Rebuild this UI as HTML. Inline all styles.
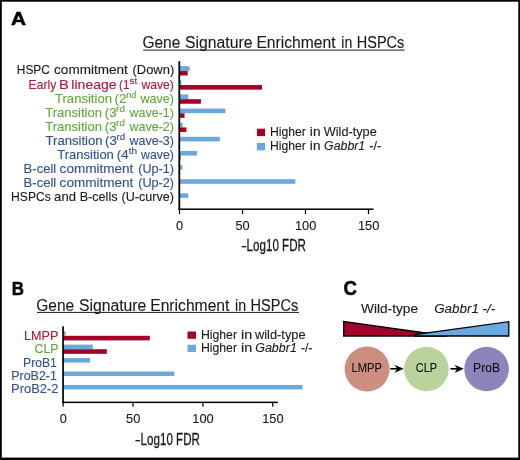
<!DOCTYPE html><html><head><meta charset="utf-8"><title>Gene Signature Enrichment in HSPCs</title>
<style>html,body{margin:0;padding:0;background:#fff}svg{display:block}text{font-family:"Liberation Sans",Arial,sans-serif}</style></head><body>
<svg width="520" height="460" viewBox="0 0 520 460">
<rect x="0" y="0" width="520" height="460" fill="#fff"/>
<rect x="0" y="0" width="520" height="1.7" fill="#000"/>
<rect x="0" y="457.6" width="520" height="2.4" fill="#000"/>
<rect x="0" y="0" width="1.8" height="460" fill="#000"/>
<rect x="518.3" y="0" width="1.7" height="460" fill="#000"/>
<text x="10.9" y="25.2" font-size="18.3" fill="#000" stroke="#000" stroke-width="0.55" text-anchor="start" font-weight="bold" textLength="15" lengthAdjust="spacingAndGlyphs">A</text>
<text x="11.75" y="295.0" font-size="18.6" fill="#000" stroke="#000" stroke-width="0.5" text-anchor="start" font-weight="bold" textLength="12.2" lengthAdjust="spacingAndGlyphs">B</text>
<text x="343.6" y="295.3" font-size="19.9" fill="#000" stroke="#000" stroke-width="0.5" text-anchor="start" font-weight="bold" textLength="13.5" lengthAdjust="spacingAndGlyphs">C</text>
<text y="48.3" font-size="16" fill="#1a1a1a" stroke="#1a1a1a" stroke-width="0.12"><tspan x="142.42" textLength="37.87" lengthAdjust="spacingAndGlyphs">Gene</tspan> <tspan x="185.09" textLength="67.31" lengthAdjust="spacingAndGlyphs">Signature</tspan> <tspan x="256.42" textLength="79.10" lengthAdjust="spacingAndGlyphs">Enrichment</tspan> <tspan x="341.26" textLength="10.96" lengthAdjust="spacingAndGlyphs">in</tspan> <tspan x="356.81" textLength="47.51" lengthAdjust="spacingAndGlyphs">HSPCs</tspan></text>
<rect x="143.2" y="49.6" width="261.4" height="1" fill="#1a1a1a"/>
<text y="310.7" font-size="16" fill="#1a1a1a" stroke="#1a1a1a" stroke-width="0.12"><tspan x="36.22" textLength="37.97" lengthAdjust="spacingAndGlyphs">Gene</tspan> <tspan x="78.88" textLength="67.41" lengthAdjust="spacingAndGlyphs">Signature</tspan> <tspan x="150.22" textLength="79.20" lengthAdjust="spacingAndGlyphs">Enrichment</tspan> <tspan x="235.05" textLength="11.08" lengthAdjust="spacingAndGlyphs">in</tspan> <tspan x="250.61" textLength="47.62" lengthAdjust="spacingAndGlyphs">HSPCs</tspan></text>
<rect x="37" y="311.9" width="262" height="1" fill="#1a1a1a"/>
<text y="74.4" font-size="12.4" fill="#1a1a1a" stroke="#1a1a1a" stroke-width="0.12"><tspan x="16.82" textLength="33.13" lengthAdjust="spacingAndGlyphs">HSPC</tspan> <tspan x="54.12" textLength="73.67" lengthAdjust="spacingAndGlyphs">commitment</tspan> <tspan x="132.50" textLength="41.71" lengthAdjust="spacingAndGlyphs">(Down)</tspan></text>
<rect x="179.5" y="66.20" width="10.08" height="4.6" fill="#69a9df"/>
<rect x="179.5" y="70.90" width="8.19" height="4.6" fill="#a30329"/>
<text y="88.5" font-size="12.4" fill="#b0173a" stroke="#b0173a" stroke-width="0.12"><tspan x="28.60" textLength="27.62" lengthAdjust="spacingAndGlyphs">Early</tspan> <tspan x="59.00" textLength="9.78" lengthAdjust="spacingAndGlyphs">B</tspan> <tspan x="71.35" textLength="45.27" lengthAdjust="spacingAndGlyphs">lineage</tspan> <tspan x="119.08" textLength="10.40" lengthAdjust="spacingAndGlyphs">(1</tspan><tspan x="129.53" textLength="7.65" lengthAdjust="spacingAndGlyphs" font-size="8.8" dy="-4.6">st</tspan> <tspan x="141.42" textLength="32.54" lengthAdjust="spacingAndGlyphs" dy="4.6">wave)</tspan></text>
<rect x="179.5" y="80.33" width="1.89" height="4.6" fill="#69a9df"/>
<rect x="179.5" y="85.03" width="82.53" height="4.6" fill="#a30329"/>
<text y="102.6" font-size="12.4" fill="#63a83c" stroke="#63a83c" stroke-width="0.12"><tspan x="55.01" textLength="56.94" lengthAdjust="spacingAndGlyphs">Transition</tspan> <tspan x="114.55" textLength="12.13" lengthAdjust="spacingAndGlyphs">(2</tspan><tspan x="126.29" textLength="10.20" lengthAdjust="spacingAndGlyphs" font-size="8.8" dy="-4.6">nd</tspan> <tspan x="140.52" textLength="33.46" lengthAdjust="spacingAndGlyphs" dy="4.6">wave)</tspan></text>
<rect x="179.5" y="94.45" width="8.82" height="4.6" fill="#69a9df"/>
<rect x="179.5" y="99.15" width="21.42" height="4.6" fill="#a30329"/>
<text y="116.7" font-size="12.4" fill="#63a83c" stroke="#63a83c" stroke-width="0.12"><tspan x="45.21" textLength="56.84" lengthAdjust="spacingAndGlyphs">Transition</tspan> <tspan x="104.78" textLength="11.81" lengthAdjust="spacingAndGlyphs">(3</tspan><tspan x="116.14" textLength="8.79" lengthAdjust="spacingAndGlyphs" font-size="8.8" dy="-4.6">rd</tspan> <tspan x="129.52" textLength="44.46" lengthAdjust="spacingAndGlyphs" dy="4.6">wave-1)</tspan></text>
<rect x="179.5" y="108.58" width="45.99" height="4.6" fill="#69a9df"/>
<rect x="179.5" y="113.28" width="5.04" height="4.6" fill="#a30329"/>
<text y="130.8" font-size="12.4" fill="#63a83c" stroke="#63a83c" stroke-width="0.12"><tspan x="45.21" textLength="56.84" lengthAdjust="spacingAndGlyphs">Transition</tspan> <tspan x="104.78" textLength="11.81" lengthAdjust="spacingAndGlyphs">(3</tspan><tspan x="116.14" textLength="8.79" lengthAdjust="spacingAndGlyphs" font-size="8.8" dy="-4.6">rd</tspan> <tspan x="129.52" textLength="44.46" lengthAdjust="spacingAndGlyphs" dy="4.6">wave-2)</tspan></text>
<rect x="179.5" y="122.70" width="3.15" height="4.6" fill="#69a9df"/>
<rect x="179.5" y="127.40" width="6.93" height="4.6" fill="#a30329"/>
<text y="144.9" font-size="12.4" fill="#31518f" stroke="#31518f" stroke-width="0.12"><tspan x="45.50" textLength="57.15" lengthAdjust="spacingAndGlyphs">Transition</tspan> <tspan x="105.08" textLength="11.81" lengthAdjust="spacingAndGlyphs">(3</tspan><tspan x="116.55" textLength="8.68" lengthAdjust="spacingAndGlyphs" font-size="8.8" dy="-4.6">rd</tspan> <tspan x="129.52" textLength="44.46" lengthAdjust="spacingAndGlyphs" dy="4.6">wave-3)</tspan></text>
<rect x="179.5" y="136.82" width="40.32" height="4.6" fill="#69a9df"/>
<text y="159.0" font-size="12.4" fill="#31518f" stroke="#31518f" stroke-width="0.12"><tspan x="57.31" textLength="56.54" lengthAdjust="spacingAndGlyphs">Transition</tspan> <tspan x="116.87" textLength="11.92" lengthAdjust="spacingAndGlyphs">(4</tspan><tspan x="128.75" textLength="8.30" lengthAdjust="spacingAndGlyphs" font-size="8.8" dy="-4.6">th</tspan> <tspan x="141.12" textLength="32.85" lengthAdjust="spacingAndGlyphs" dy="4.6">wave)</tspan></text>
<rect x="179.5" y="150.95" width="17.64" height="4.6" fill="#69a9df"/>
<rect x="179.5" y="155.65" width="1.01" height="4.6" fill="#a30329"/>
<text y="173.1" font-size="12.4" fill="#31518f" stroke="#31518f" stroke-width="0.12"><tspan x="23.63" textLength="32.54" lengthAdjust="spacingAndGlyphs">B-cell</tspan> <tspan x="59.62" textLength="73.78" lengthAdjust="spacingAndGlyphs">commitment</tspan> <tspan x="138.22" textLength="35.77" lengthAdjust="spacingAndGlyphs">(Up-1)</tspan></text>
<rect x="179.5" y="165.07" width="2.90" height="4.6" fill="#69a9df"/>
<rect x="179.5" y="169.77" width="0.38" height="4.6" fill="#a30329"/>
<text y="187.2" font-size="12.4" fill="#31518f" stroke="#31518f" stroke-width="0.12"><tspan x="23.63" textLength="32.54" lengthAdjust="spacingAndGlyphs">B-cell</tspan> <tspan x="59.62" textLength="73.78" lengthAdjust="spacingAndGlyphs">commitment</tspan> <tspan x="138.22" textLength="35.77" lengthAdjust="spacingAndGlyphs">(Up-2)</tspan></text>
<rect x="179.5" y="179.20" width="115.92" height="4.6" fill="#69a9df"/>
<rect x="179.5" y="183.90" width="0.38" height="4.6" fill="#a30329"/>
<text y="201.3" font-size="12.4" fill="#1a1a1a" stroke="#1a1a1a" stroke-width="0.12"><tspan x="11.11" textLength="39.63" lengthAdjust="spacingAndGlyphs">HSPCs</tspan> <tspan x="54.14" textLength="21.80" lengthAdjust="spacingAndGlyphs">and</tspan> <tspan x="79.66" textLength="37.89" lengthAdjust="spacingAndGlyphs">B-cells</tspan> <tspan x="121.52" textLength="52.46" lengthAdjust="spacingAndGlyphs">(U-curve)</tspan></text>
<rect x="179.5" y="193.32" width="8.82" height="4.6" fill="#69a9df"/>
<rect x="179.5" y="198.02" width="0.38" height="4.6" fill="#a30329"/>
<rect x="178.4" y="61.2" width="1.8" height="148.75" fill="#000"/>
<rect x="178.4" y="208.45" width="195.1" height="1.5" fill="#000"/>
<rect x="178.90" y="209" width="1.2" height="5.2" fill="#000"/>
<text x="179.6" y="229.8" font-size="12.8" fill="#1a1a1a" stroke="#1a1a1a" stroke-width="0.12" text-anchor="middle">0</text>
<rect x="241.90" y="209" width="1.2" height="5.2" fill="#000"/>
<text x="242.6" y="229.8" font-size="12.8" fill="#1a1a1a" stroke="#1a1a1a" stroke-width="0.12" text-anchor="middle">50</text>
<rect x="304.90" y="209" width="1.2" height="5.2" fill="#000"/>
<text x="305.6" y="229.8" font-size="12.8" fill="#1a1a1a" stroke="#1a1a1a" stroke-width="0.12" text-anchor="middle">100</text>
<rect x="367.90" y="209" width="1.2" height="5.2" fill="#000"/>
<text x="368.6" y="229.8" font-size="12.8" fill="#1a1a1a" stroke="#1a1a1a" stroke-width="0.12" text-anchor="middle">150</text>
<text x="241.7" y="251.4" font-size="15.6" fill="#1a1a1a" stroke="#1a1a1a" stroke-width="0.3" text-anchor="start" textLength="4.4" lengthAdjust="spacingAndGlyphs">–</text>
<text x="246.6" y="251.4" font-size="15.6" fill="#1a1a1a" stroke="#1a1a1a" stroke-width="0.3" text-anchor="start" textLength="59.3" lengthAdjust="spacingAndGlyphs">Log10 FDR</text>
<rect x="256.9" y="128.7" width="8.2" height="7.4" fill="#a30329"/>
<rect x="256.9" y="143" width="8.2" height="7.4" fill="#69a9df"/>
<text y="135.8" font-size="12.5" fill="#1a1a1a" stroke="#1a1a1a" stroke-width="0.12"><tspan x="269.90" textLength="35.90" lengthAdjust="spacingAndGlyphs">Higher</tspan> <tspan x="309.89" textLength="10.59" lengthAdjust="spacingAndGlyphs">in</tspan> <tspan x="323.74" textLength="53.02" lengthAdjust="spacingAndGlyphs">Wild-type</tspan></text>
<text y="150.0" font-size="12.5" fill="#1a1a1a" stroke="#1a1a1a" stroke-width="0.12"><tspan x="269.90" textLength="35.90" lengthAdjust="spacingAndGlyphs">Higher</tspan> <tspan x="309.89" textLength="10.59" lengthAdjust="spacingAndGlyphs">in</tspan> <tspan x="324.09" textLength="41.15" lengthAdjust="spacingAndGlyphs" font-style="italic">Gabbr1</tspan> <tspan x="369.34" textLength="11.92" lengthAdjust="spacingAndGlyphs">-/-</tspan></text>
<text y="340.1" font-size="12.3" fill="#b0173a" stroke="#b0173a" stroke-width="0.12"><tspan x="24.06" textLength="34.40" lengthAdjust="spacingAndGlyphs">LMPP</tspan></text>
<rect x="63" y="331.20" width="2.52" height="4.5" fill="#69a9df"/>
<rect x="63" y="335.80" width="86.80" height="4.6" fill="#a30329"/>
<text y="353.35" font-size="12.3" fill="#63a83c" stroke="#63a83c" stroke-width="0.12"><tspan x="34.58" textLength="23.87" lengthAdjust="spacingAndGlyphs">CLP</tspan></text>
<rect x="63" y="344.64" width="29.82" height="4.5" fill="#69a9df"/>
<rect x="63" y="349.24" width="43.82" height="4.6" fill="#a30329"/>
<text y="366.6" font-size="12.3" fill="#31518f" stroke="#31518f" stroke-width="0.12"><tspan x="23.00" textLength="33.90" lengthAdjust="spacingAndGlyphs">ProB1</tspan></text>
<rect x="63" y="358.08" width="27.02" height="4.5" fill="#69a9df"/>
<text y="379.85" font-size="12.3" fill="#31518f" stroke="#31518f" stroke-width="0.12"><tspan x="11.18" textLength="45.73" lengthAdjust="spacingAndGlyphs">ProB2-1</tspan></text>
<rect x="63" y="371.52" width="111.30" height="4.5" fill="#69a9df"/>
<text y="393.1" font-size="12.3" fill="#31518f" stroke="#31518f" stroke-width="0.12"><tspan x="11.14" textLength="47.31" lengthAdjust="spacingAndGlyphs">ProB2-2</tspan></text>
<rect x="63" y="384.96" width="239.40" height="4.5" fill="#69a9df"/>
<rect x="62.2" y="326.3" width="1.7" height="76.8" fill="#000"/>
<rect x="62.2" y="401.6" width="215.7" height="1.5" fill="#000"/>
<rect x="62.50" y="402" width="1.2" height="4.7" fill="#000"/>
<text x="63.3" y="423.2" font-size="12.8" fill="#1a1a1a" stroke="#1a1a1a" stroke-width="0.12" text-anchor="middle">0</text>
<rect x="132.38" y="402" width="1.2" height="4.7" fill="#000"/>
<text x="133.2" y="423.2" font-size="12.8" fill="#1a1a1a" stroke="#1a1a1a" stroke-width="0.12" text-anchor="middle">50</text>
<rect x="202.25" y="402" width="1.2" height="4.7" fill="#000"/>
<text x="203.0" y="423.2" font-size="12.8" fill="#1a1a1a" stroke="#1a1a1a" stroke-width="0.12" text-anchor="middle">100</text>
<rect x="272.12" y="402" width="1.2" height="4.7" fill="#000"/>
<text x="272.9" y="423.2" font-size="12.8" fill="#1a1a1a" stroke="#1a1a1a" stroke-width="0.12" text-anchor="middle">150</text>
<text x="135.6" y="444.6" font-size="15.6" fill="#1a1a1a" stroke="#1a1a1a" stroke-width="0.3" text-anchor="start" textLength="4.4" lengthAdjust="spacingAndGlyphs">–</text>
<text x="140.6" y="444.6" font-size="15.6" fill="#1a1a1a" stroke="#1a1a1a" stroke-width="0.3" text-anchor="start" textLength="59.3" lengthAdjust="spacingAndGlyphs">Log10 FDR</text>
<rect x="187.5" y="331.5" width="8.5" height="7.3" fill="#a30329"/>
<rect x="187.5" y="344.8" width="8.5" height="7.2" fill="#69a9df"/>
<text y="338.6" font-size="12.5" fill="#1a1a1a" stroke="#1a1a1a" stroke-width="0.12"><tspan x="200.89" textLength="36.11" lengthAdjust="spacingAndGlyphs">Higher</tspan> <tspan x="240.94" textLength="11.20" lengthAdjust="spacingAndGlyphs">in</tspan> <tspan x="255.02" textLength="50.55" lengthAdjust="spacingAndGlyphs">wild-type</tspan></text>
<text y="351.9" font-size="12.5" fill="#1a1a1a" stroke="#1a1a1a" stroke-width="0.12"><tspan x="200.89" textLength="36.11" lengthAdjust="spacingAndGlyphs">Higher</tspan> <tspan x="240.94" textLength="11.20" lengthAdjust="spacingAndGlyphs">in</tspan> <tspan x="255.18" textLength="41.67" lengthAdjust="spacingAndGlyphs" font-style="italic">Gabbr1</tspan> <tspan x="300.96" textLength="11.48" lengthAdjust="spacingAndGlyphs">-/-</tspan></text>
<text x="361" y="313.4" font-size="12.6" fill="#1a1a1a" stroke="#1a1a1a" stroke-width="0.12" text-anchor="start" textLength="57" lengthAdjust="spacingAndGlyphs">Wild-type</text>
<text x="434.2" y="313.4" font-size="12.6" fill="#1a1a1a" stroke="#1a1a1a" stroke-width="0.12" text-anchor="start" font-style="italic" textLength="61" lengthAdjust="spacingAndGlyphs">Gabbr1 -/-</text>
<polygon points="343.7,321.5 343.7,336 447,336" fill="#a30329" stroke="#000" stroke-width="1.3" stroke-linejoin="miter"/>
<polygon points="508.8,321.7 508.8,336 415,336 415,334.65" fill="#69a9df" stroke="#000" stroke-width="1.3" stroke-linejoin="miter"/>
<circle cx="367.1" cy="369" r="22.5" fill="#cd8e80"/>
<circle cx="426.4" cy="369" r="22.3" fill="#b9d39c"/>
<circle cx="486.6" cy="369" r="22.3" fill="#8c84bb"/>
<text x="366.7" y="372.3" font-size="12.3" fill="#111" stroke="#111" stroke-width="0.12" text-anchor="middle" textLength="30.2" lengthAdjust="spacingAndGlyphs">LMPP</text>
<text x="426.5" y="372.2" font-size="12.3" fill="#111" stroke="#111" stroke-width="0.12" text-anchor="middle" textLength="21.3" lengthAdjust="spacingAndGlyphs">CLP</text>
<text x="486.6" y="372.3" font-size="12.3" fill="#111" stroke="#111" stroke-width="0.12" text-anchor="middle" textLength="27" lengthAdjust="spacingAndGlyphs">ProB</text>
<rect x="390.3" y="368.00" width="8.4" height="1.6" fill="#000"/>
<path d="M403.7,368.8 L394.30,364.70 Q396.50,367.30 397.10,368.8 Q396.50,370.30 394.30,372.90 Z" fill="#000"/>
<rect x="450.4" y="368.00" width="8.4" height="1.6" fill="#000"/>
<path d="M463.8,368.8 L454.40,364.70 Q456.60,367.30 457.20,368.8 Q456.60,370.30 454.40,372.90 Z" fill="#000"/>
</svg></body></html>
